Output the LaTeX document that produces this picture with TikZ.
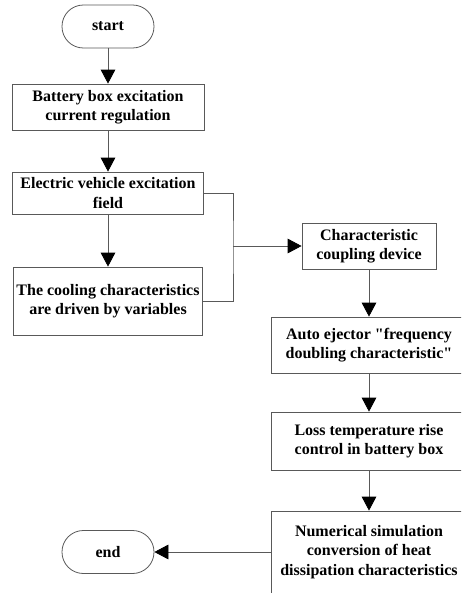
\documentclass[tikz,border=0pt]{standalone}
\usepackage{fontspec}
\setmainfont{Liberation Serif}[Ligatures=TeXOff]
\usetikzlibrary{arrows.meta}
\begin{document}
\begin{tikzpicture}[x=0.75pt,y=-0.75pt,
  every node/.style={font=\bfseries\fontsize{12}{14.6}\selectfont, align=center, inner sep=0pt},
  procbox/.style={draw=black!65, line width=0.6pt, rectangle},
  termbox/.style={draw=black!65, line width=0.6pt, rectangle, rounded corners=16pt,
    minimum width=69pt, minimum height=32.25pt},
  flow/.style={draw=black!65, line width=0.6pt, -{Triangle[width=11pt,length=10.5pt,color=black]}},
  plain/.style={draw=black!65, line width=0.6pt}]
\useasboundingbox (0,0) rectangle (461,593);
\clip (0,0) rectangle (461,593);
\node[termbox] (start) at (108,26.5) {start};
\node[procbox, minimum width=144pt, minimum height=34.5pt] (b1) at (108,107) {Battery box excitation\\current regulation};
\node[procbox, minimum width=143pt, minimum height=31.5pt] (b2) at (108,193) {Electric vehicle excitation\\field};
\node[procbox, minimum width=142pt, minimum height=51pt] (b3) at (108,301) {The cooling characteristics\\are driven by variables};
\node[procbox, minimum width=100.5pt, minimum height=34.5pt] (ch) at (369,246) {Characteristic\\coupling device};
\node[procbox, minimum width=146pt, minimum height=42pt] (ae) at (369,345) {Auto ejector "frequency\\doubling characteristic"};
\node[procbox, minimum width=147pt, minimum height=43.5pt] (lt) at (369,441) {Loss temperature rise\\control in battery box};
\node[procbox, minimum width=147pt, minimum height=61.5pt] (ns) at (369,552) {Numerical simulation\\conversion of heat\\dissipation characteristics};
\node[termbox] (end) at (108,552) {end};
\coordinate (jx) at (233,247);
\draw[flow] (start) -- (b1);
\draw[flow] (b1) -- (b2);
\draw[flow] (b2) -- (b3);
\draw[plain] (b2.east) -| (jx) |- (b3.east);
\draw[flow] (jx |- ch.west) -- (ch.west);
\draw[flow] (ch) -- (ae);
\draw[flow] (ae) -- (lt);
\draw[flow] (lt) -- (ns);
\draw[flow] (ns.west) -- (end.east);
\end{tikzpicture}
\end{document}
